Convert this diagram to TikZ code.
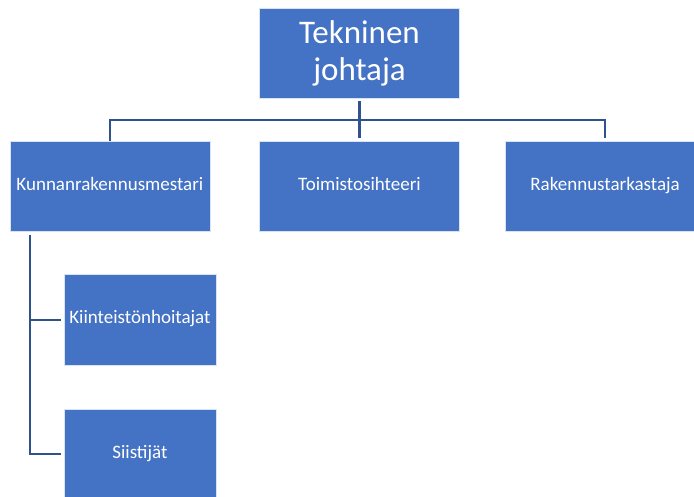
\documentclass[tikz,border=0pt]{standalone}
\usepackage{fontspec}
\setmainfont{Carlito}
\usetikzlibrary{positioning, calc}

\definecolor{boxblue}{RGB}{68,114,196}
\definecolor{linkblue}{RGB}{47,82,143}

\begin{document}
\begin{tikzpicture}[
  x=1pt, y=1pt,
  unit/.style  = {rectangle, fill=boxblue, draw=white!80!boxblue, line width=0.6pt,
                  text=white, minimum width=200pt, minimum height=90pt,
                  text height=0.8em, text depth=0pt,
                  align=center, inner sep=2pt, font=\fontsize{19}{23}\selectfont},
  boss/.style  = {unit, text height=, text depth=, font=\fontsize{33}{37}\selectfont},
  child/.style = {unit, minimum width=152pt, minimum height=91pt},
  link/.style  = {draw=linkblue, line width=2.2pt},
  node distance=43pt and 48pt
]
\useasboundingbox (0,0) rectangle (694,-497);
\clip (0,0) rectangle (694,-497);

%--------------------------------------------------
% top level
%--------------------------------------------------
\node[boss] (tekn) at (359.5,-53) {Tekninen\\johtaja};

%--------------------------------------------------
% second row
%--------------------------------------------------
\node[unit, below=of tekn] (toim) {Toimistosihteeri};
\node[unit, left=49pt of toim] (kunn) {Kunnanrakennusmestari};
\node[unit, right=45pt of toim] (rak) {Rakennustarkastaja};

% under Kunnanrakennusmestari
\node[child, below right=42pt and 54pt of kunn.south west] (kiint) {Kiinteistönhoitajat};
\node[child, below=of kiint] (siis) {Siistijät};

%--------------------------------------------------
% Connections
%--------------------------------------------------
\coordinate (bus) at ($(tekn.south)+(0,-22)$);
\coordinate (spine) at ($(kunn.south west)+(20,0)$);

\draw[link, shorten <=3pt, shorten >=3pt] (tekn.south) -- (toim.north);
\draw[link, shorten >=3pt] (kunn.north) |- (bus) -| (rak.north);
\draw[link, shorten >=3pt] (kunn.north) -- ++(0,3pt);

% Kunnanrakennusmestari -> its staff
\draw[link, shorten <=3pt, shorten >=3pt] (spine) |- (kiint.west);
\draw[link, shorten <=3pt, shorten >=3pt] (spine) |- (siis.west);

\end{tikzpicture}
\end{document}
